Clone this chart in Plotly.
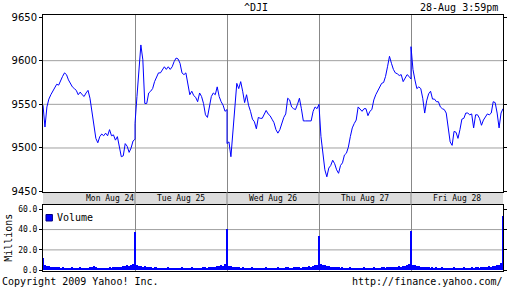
import plotly.graph_objects as go

# ---------------- data ----------------
day_labels = ["Mon Aug 24", "Tue Aug 25", "Wed Aug 26", "Thu Aug 27", "Fri Aug 28"]

mon_price = [9549, 9524, 9547, 9556, 9561, 9565, 9569, 9573, 9572, 9578,
             9582, 9586, 9584, 9578, 9573, 9570, 9568, 9566, 9561, 9564,
             9561, 9559, 9563, 9566, 9557, 9540, 9522, 9511, 9506, 9513,
             9516, 9514, 9517, 9514, 9521, 9514, 9515, 9509, 9513, 9503,
             9490, 9491, 9505, 9502, 9495, 9500, 9508, 9510]
tue_price = [9528, 9559, 9593, 9618, 9601, 9551, 9551, 9563, 9565, 9568,
             9576, 9582, 9586, 9586, 9590, 9593, 9590, 9593, 9590, 9593,
             9599, 9603, 9602, 9597, 9586, 9584, 9586, 9572, 9561, 9565,
             9560, 9558, 9553, 9563, 9559, 9551, 9538, 9535, 9549, 9559,
             9563, 9561, 9570, 9559, 9553, 9549, 9542, 9544]
wed_price = [9505, 9507, 9490, 9517, 9549, 9574, 9568, 9576, 9565, 9552,
             9561, 9549, 9542, 9533, 9530, 9522, 9535, 9534, 9534, 9539,
             9543, 9539, 9537, 9533, 9529, 9521, 9517, 9521, 9529, 9535,
             9539, 9557, 9555, 9547, 9545, 9544, 9550, 9557, 9545, 9531,
             9531, 9531, 9531, 9531, 9542, 9547, 9545, 9550]
thu_price = [9549, 9513, 9492, 9475, 9467, 9477, 9480, 9486, 9482, 9475,
             9471, 9480, 9483, 9492, 9494, 9501, 9513, 9523, 9528, 9532,
             9547, 9545, 9542, 9545, 9545, 9537, 9542, 9544, 9555, 9561,
             9566, 9570, 9574, 9575, 9582, 9593, 9605, 9597, 9590, 9586,
             9585, 9583, 9584, 9576, 9581, 9584, 9582, 9579]
fri_price = [9616, 9590, 9578, 9568, 9570, 9568, 9557, 9540, 9554, 9562,
             9565, 9556, 9556, 9553, 9553, 9547, 9545, 9544, 9540, 9526,
             9507, 9503, 9519, 9518, 9511, 9521, 9533, 9534, 9540, 9540,
             9538, 9539, 9523, 9538, 9538, 9534, 9526, 9532, 9535, 9539,
             9538, 9540, 9553, 9552, 9540, 9523, 9540, 9545]

# volume in millions
mon_vol = [12, 5, 4, 4, 3, 3, 3, 3, 3, 2, 3, 2, 2, 2, 2, 3, 2, 2, 2, 3, 2, 2, 2, 2,
           3, 3, 4, 3, 2, 2, 2, 2, 2, 2, 3, 2, 3, 3, 3, 3, 3, 4, 4, 5, 4, 5, 6, 32]
tue_vol = [6, 5, 4, 4, 3, 4, 3, 3, 3, 2, 3, 3, 2, 2, 2, 2, 2, 3, 2, 2, 2, 2, 2, 2,
           3, 2, 2, 2, 2, 3, 2, 2, 2, 2, 2, 3, 3, 2, 3, 3, 3, 3, 4, 4, 5, 4, 6, 36]
wed_vol = [5, 4, 4, 3, 3, 3, 3, 2, 3, 2, 2, 2, 2, 3, 2, 2, 2, 2, 2, 2, 3, 2, 2, 2,
           2, 2, 3, 2, 2, 2, 3, 3, 2, 2, 3, 3, 3, 3, 2, 3, 3, 3, 4, 3, 4, 5, 5, 27]
thu_vol = [7, 6, 5, 5, 4, 4, 3, 3, 3, 3, 3, 2, 3, 2, 2, 2, 3, 2, 2, 2, 2, 2, 2, 3,
           2, 2, 2, 2, 3, 2, 2, 2, 3, 3, 2, 3, 3, 3, 3, 3, 3, 4, 3, 4, 4, 5, 6, 33]
fri_vol = [6, 5, 5, 4, 4, 3, 3, 3, 3, 3, 2, 3, 2, 3, 2, 2, 3, 2, 2, 2, 2, 2, 3, 2,
           2, 2, 2, 3, 2, 2, 2, 3, 2, 3, 3, 2, 3, 3, 3, 3, 4, 3, 4, 4, 5, 5, 7, 53]

price_ticks = [9450, 9500, 9550, 9600, 9650]
vol_ticks = [0, 20, 40, 60]
vol_ticktext = ["0.0", "20.0", "40.0", "60.0"]

# ---------------- build ----------------
prices = [mon_price, tue_price, wed_price, thu_price, fri_price]
vols = [mon_vol, tue_vol, wed_vol, thu_vol, fri_vol]
x_all, p_all, v_all = [], [], []
for d, (p, v) in enumerate(zip(prices, vols)):
    n = len(p)
    for k in range(n):
        x_all.append(d + k / (n - 1))
        p_all.append(p[k])
        v_all.append(v[k])

BLUE = "#0000ff"
GRID = "#a0a0a0"
MONO = "DejaVu Sans Mono"

fig = go.Figure()
fig.add_trace(go.Scatter(x=x_all, y=p_all, mode="lines",
                         line=dict(color=BLUE, width=1),
                         xaxis="x", yaxis="y", showlegend=False, hoverinfo="skip"))
fig.add_trace(go.Bar(x=x_all, y=v_all, width=0.012,
                     marker=dict(color=BLUE, line_width=0),
                     xaxis="x2", yaxis="y2", showlegend=False, hoverinfo="skip"))

VOL_TOP = 66 / 256
MAIN_BOT = 79 / 256

shapes = []
# grey date band
shapes.append(dict(type="rect", xref="paper", yref="paper", x0=0, x1=1,
                   y0=VOL_TOP, y1=MAIN_BOT, fillcolor="#dcdcdc",
                   line=dict(width=0), layer="below"))
# day separators through the band
for d in range(1, len(day_labels)):
    shapes.append(dict(type="line", xref="x", yref="paper", x0=d, x1=d,
                       y0=VOL_TOP, y1=MAIN_BOT, line=dict(color="#888888", width=1)))
# horizontal grid (main)
for t in price_ticks[1:-1]:
    shapes.append(dict(type="line", xref="paper", yref="y", x0=0, x1=1, y0=t, y1=t,
                       line=dict(color=GRID, width=1), layer="below"))
# horizontal grid (volume)
for t in vol_ticks[1:-1]:
    shapes.append(dict(type="line", xref="paper", yref="y2", x0=0, x1=1, y0=t, y1=t,
                       line=dict(color=GRID, width=1), layer="below"))
# legend square
shapes.append(dict(type="rect", xref="paper", yref="paper",
                   x0=3 / 464, x1=9.5 / 464, y0=50 / 256, y1=56.5 / 256,
                   fillcolor=BLUE, line=dict(color="#000080", width=1)))

annotations = []
band_y = (VOL_TOP + MAIN_BOT) / 2
label_x = [d + 0.5 for d in range(len(day_labels))]
label_x[0] = 0.73
for lx, lab in zip(label_x, day_labels):
    annotations.append(dict(x=lx, y=band_y, xref="x", yref="paper", text=lab,
                            showarrow=False, xanchor="center", yanchor="middle",
                            font=dict(family=MONO, size=8, color="black")))
annotations.append(dict(x=12 / 464, y=53.3 / 256, xref="paper", yref="paper",
                        text="Volume", showarrow=False, xanchor="left", yanchor="middle",
                        font=dict(family=MONO, size=10, color="black")))
annotations.append(dict(x=-35.5 / 464, y=33 / 256, xref="paper", yref="paper",
                        text="Millions", textangle=-90, showarrow=False,
                        xanchor="center", yanchor="middle",
                        font=dict(family=MONO, size=10, color="black")))
annotations.append(dict(x=461 / 464, y=264 / 256, xref="paper", yref="paper",
                        text="28-Aug 3:59pm", showarrow=False, xanchor="right",
                        yanchor="middle", font=dict(family=MONO, size=10, color="black")))
annotations.append(dict(x=-43 / 464, y=-10 / 256, xref="paper", yref="paper",
                        text="Copyright 2009 Yahoo! Inc.", showarrow=False,
                        xanchor="left", yanchor="middle",
                        font=dict(family=MONO, size=10, color="black")))
annotations.append(dict(x=466 / 464, y=-10 / 256, xref="paper", yref="paper",
                        text="http://finance.yahoo.com/", showarrow=False,
                        xanchor="right", yanchor="middle",
                        font=dict(family=MONO, size=10, color="black")))

axis_common = dict(showline=True, linecolor="black", linewidth=1, zeroline=False)

fig.update_layout(
    width=512, height=288,
    margin=dict(l=43, r=5, t=15, b=17, pad=0),
    paper_bgcolor="white", plot_bgcolor="white",
    title=dict(text="^DJI", x=0.5, xref="container", xanchor="center",
               y=1 - 7 / 288, yref="container", yanchor="middle",
               font=dict(family=MONO, size=10, color="black")),
    xaxis=dict(domain=[0, 1], anchor="y", range=[0, 5], tick0=0, dtick=1,
               showgrid=True, gridcolor="#888888", gridwidth=1,
               showticklabels=False, ticks="", mirror=True, **axis_common),
    yaxis=dict(domain=[MAIN_BOT, 1], anchor="x", range=[9449.6, 9652.3],
               tickvals=price_ticks, showgrid=False, ticks="outside", ticklen=3,
               tickcolor="black", mirror="ticks",
               tickfont=dict(family="DejaVu Sans", size=10, color="black"),
               **axis_common),
    xaxis2=dict(domain=[0, 1], anchor="y2", range=[0, 5], tick0=0, dtick=1,
                matches="x", showgrid=True, gridcolor="#888888", gridwidth=1,
                showticklabels=False, ticks="", mirror=True, **axis_common),
    yaxis2=dict(domain=[0, VOL_TOP], anchor="x2", range=[-0.8, 64.2],
                tickvals=vol_ticks, ticktext=vol_ticktext, showgrid=False,
                ticks="outside", ticklen=3, tickcolor="black", mirror="ticks",
                tickfont=dict(family=MONO, size=8, color="black"),
                **axis_common),
    shapes=shapes,
    annotations=annotations,
    bargap=0,
)

fig.write_html("out.html")
